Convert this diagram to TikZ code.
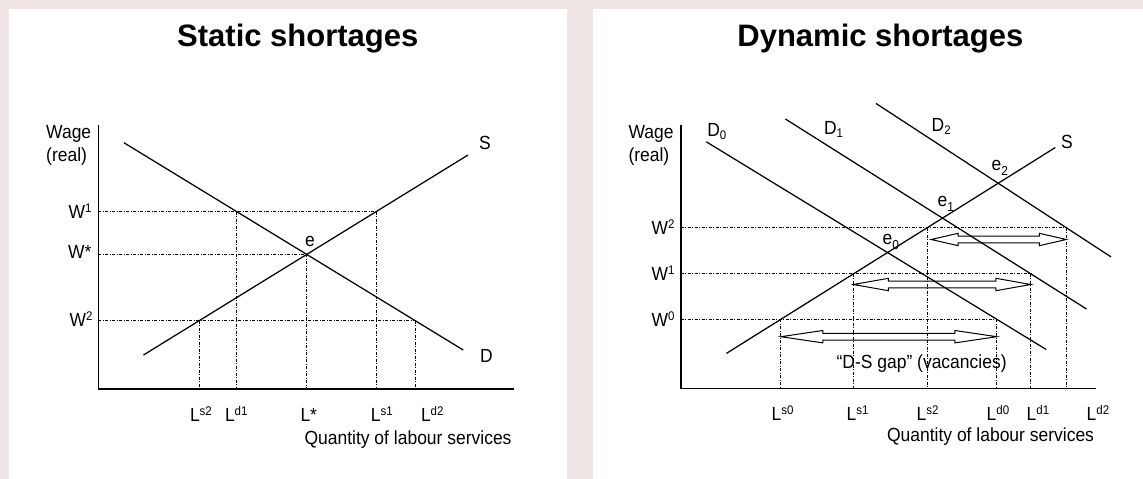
\documentclass[tikz,border=0pt]{standalone}
\usepackage{fontspec}
\setmainfont{Liberation Sans}[FakeStretch=0.92]
\newfontfamily\titlefont{Liberation Sans}
\usetikzlibrary{calc,intersections}
\definecolor{bgpink}{HTML}{F0E6E6}
\newcommand\supr[1]{\raisebox{5.8pt}{\fontsize{12.5}{12.5}\selectfont #1}}
\newcommand\subr[1]{\raisebox{-2.5pt}{\fontsize{12.5}{12.5}\selectfont #1}}
\newcommand\esub[1]{\raisebox{-5pt}{\fontsize{13}{13}\selectfont #1}}
\newcommand\gaparrow[3]{%
  \draw[gaparrowline] (#1) -- ++(#3,-6.2) -- ++(0,2.9) -- ($(#2)+(-#3,-3.3)$) -- ++(0,-2.9) -- (#2)
    -- ++(-#3,6.2) -- ++(0,-2.9) -- ($(#1)+(#3,3.3)$) -- ++(0,2.9) -- cycle;}
\begin{document}
\begin{tikzpicture}[x=1pt,y=-1pt,
  lbl/.style={font=\fontsize{19}{22}\selectfont, inner sep=0pt, outer sep=0pt},
  ttl/.style={font=\titlefont\fontsize{31}{36}\selectfont\bfseries, inner sep=0pt, anchor=base},
  curve/.style={line width=1.25pt},
  axisline/.style={line width=1.6pt},
  guide/.style={line width=0.9pt, dash pattern=on 3pt off 1.5pt on 1pt off 1.5pt},
  gaparrowline/.style={draw, line width=1pt, line join=miter}]
\useasboundingbox (0,0) rectangle (1143,479);
\fill[bgpink] (0,0) rectangle (1143,479);
\fill[white] (8.5,9.3) rectangle (566.8,479);
\fill[white] (592.7,9.3) rectangle (1143,479);

% ================= LEFT: static =================
\node[ttl] (t1) at (297.8,46.7) {Static shortages};
\coordinate (O1) at (98.4,389);
\coordinate (Y1) at (98.4,125);
\coordinate (X1) at (513.5,389);
\coordinate (Dt) at (123.9,142.7);
\coordinate (Db) at (463.2,350);
\coordinate (Sb) at (143.5,355);
\coordinate (St) at (468,155);
\path[name path=Dl] (Dt) -- (Db);
\path[name path=Sl] (Sb) -- (St);
\path[name path=w1l] (98.4,211.5) -- (520,211.5);
\path[name path=w2l] (98.4,320.7) -- (520,320.7);
\path[name intersections={of=Dl and Sl, by=E}];
\path[name intersections={of=Dl and w1l, by=Dw1}];
\path[name intersections={of=Sl and w1l, by=Sw1}];
\path[name intersections={of=Dl and w2l, by=Dw2}];
\path[name intersections={of=Sl and w2l, by=Sw2}];

\draw[guide] (O1 |- Sw1) -- (Sw1);
\draw[guide] (O1 |- E) -- (E);
\draw[guide] (O1 |- Dw2) -- (Dw2);
\draw[guide] (Dw1) -- (Dw1 |- O1);
\draw[guide] (Sw1) -- (Sw1 |- O1);
\draw[guide] (E) -- (E |- O1);
\draw[guide] (Sw2) -- (Sw2 |- O1);
\draw[guide] (Dw2) -- (Dw2 |- O1);

\draw[curve] (Dt) -- (Db);
\draw[curve] (Sb) -- (St);
\draw[axisline] (Y1) -- (O1) -- (X1);

\node[lbl, anchor=base west] (wage1) at (46.2,138.3) {Wage};
\node[lbl, anchor=base west] (real1) at (46.2,161.7) {(real)};
\node[lbl, anchor=base east] (lw1) at (91.5,218.5) {W\supr{1}};
\node[lbl, anchor=base east] (lws) at (91.5,258.5) {W*};
\node[lbl, anchor=base east] (lw2) at (92.5,326.5) {W\supr{2}};
\node[lbl, anchor=base west] (ls2) at (190,421) {L\supr{s2}};
\node[lbl, anchor=base west] (ld1) at (225,421) {L\supr{d1}};
\node[lbl, anchor=base west] (lst) at (300.5,421) {L*};
\node[lbl, anchor=base west] (ls1) at (370.8,421) {L\supr{s1}};
\node[lbl, anchor=base west] (ld2) at (421,421) {L\supr{d2}};
\node[lbl, anchor=base east] (q1) at (511.5,444) {Quantity of labour services};
\node[lbl, anchor=base west] (sl1) at (479,149.3) {S};
\node[lbl, anchor=base west] (dl1) at (480,362.3) {D};
\node[lbl, anchor=base west] (el) at (305,246.7) {e};

% ================= RIGHT: dynamic =================
\node[ttl] (t2) at (880.4,46.7) {Dynamic shortages};
\coordinate (O2) at (680.7,388.5);
\coordinate (Y2) at (680.7,125);
\coordinate (X2) at (1096.4,388.5);
\coordinate (D0t) at (706.3,141.8);
\coordinate (D0b) at (1046.2,349.5);
\coordinate (D1t) at (785.4,119);
\coordinate (D1b) at (1086.5,309);
\coordinate (D2t) at (875.9,103.4);
\coordinate (D2b) at (1111,256.9);
\coordinate (S2b) at (726.4,353.4);
\coordinate (S2t) at (1055.3,147.5);
\path[name path=D0] (D0t) -- (D0b);
\path[name path=D1] (D1t) -- (D1b);
\path[name path=D2] (D2t) -- (D2b);
\path[name path=S2] (S2b) -- (S2t);
\path[name path=w0r] (680.7,319.3) -- (1120,319.3);
\path[name path=w1r] (680.7,273.9) -- (1120,273.9);
\path[name path=w2r] (680.7,227.7) -- (1120,227.7);
\path[name intersections={of=S2 and w0r, by=Sw0r}];
\path[name intersections={of=D0 and w0r, by=Dw0r}];
\path[name intersections={of=S2 and w1r, by=Sw1r}];
\path[name intersections={of=D1 and w1r, by=Dw1r}];
\path[name intersections={of=S2 and w2r, by=Sw2r}];
\path[name intersections={of=D2 and w2r, by=Dw2r}];

\draw[guide] (O2 |- Dw2r) -- (Dw2r);
\draw[guide] (O2 |- Dw1r) -- (Dw1r);
\draw[guide] (O2 |- Dw0r) -- (Dw0r);
\foreach \p in {Sw0r,Dw0r,Sw1r,Dw1r,Sw2r,Dw2r}
  \draw[guide] (\p) -- (\p |- O2);

\coordinate (a0l) at (Sw0r |- 0,336.7);
\coordinate (a0r) at (Dw0r |- 0,336.7);
\coordinate (a1l) at (Sw1r |- 0,284.5);
\coordinate (a1r) at (Dw1r |- 0,284.5);
\coordinate (a2l) at ($(Sw2r |- 0,239.5)+(4,0)$);
\coordinate (a2r) at (Dw2r |- 0,239.5);
\gaparrow{a0l}{a0r}{42}
\gaparrow{a1l}{a1r}{35}
\gaparrow{a2l}{a2r}{27}

\draw[curve] (D0t) -- (D0b);
\draw[curve] (D1t) -- (D1b);
\draw[curve] (D2t) -- (D2b);
\draw[curve] (S2b) -- (S2t);
\draw[axisline] (Y2) -- (O2) -- (X2);

\node[lbl, anchor=base west] (wage2) at (628.5,138.3) {Wage};
\node[lbl, anchor=base west] (real2) at (628.5,161.5) {(real)};
\node[lbl, anchor=base east] (rw2) at (674.4,234.4) {W\supr{2}};
\node[lbl, anchor=base east] (rw1) at (674.4,280.6) {W\supr{1}};
\node[lbl, anchor=base east] (rw0) at (674.4,326) {W\supr{0}};
\node[lbl, anchor=base west] (rls0) at (771.7,420) {L\supr{s0}};
\node[lbl, anchor=base west] (rls1) at (846.7,420) {L\supr{s1}};
\node[lbl, anchor=base west] (rls2) at (916.7,420) {L\supr{s2}};
\node[lbl, anchor=base west] (rld0) at (986.7,420) {L\supr{d0}};
\node[lbl, anchor=base west] (rld1) at (1026.7,420) {L\supr{d1}};
\node[lbl, anchor=base west] (rld2) at (1086.7,420) {L\supr{d2}};
\node[lbl, anchor=base east] (q2) at (1094,441.7) {Quantity of labour services};
\node[lbl, anchor=base west] (d0l) at (707.3,136.7) {D\subr{0}};
\node[lbl, anchor=base west] (d1l) at (824,134.5) {D\subr{1}};
\node[lbl, anchor=base west] (d2l) at (931.7,131.7) {D\subr{2}};
\node[lbl, anchor=base west] (s2l) at (1061,148.3) {S};
\node[lbl, anchor=base west] (e2l) at (991.7,170.7) {e\esub{2}};
\node[lbl, anchor=base west] (e1l) at (937.7,206) {e\esub{1}};
\node[lbl, anchor=base west] (e0l) at (882.7,244.3) {e\esub{0}};
\node[lbl, anchor=base] (gap) at (921.6,368.3) {“D-S gap” (vacancies)};
\end{tikzpicture}
\end{document}
